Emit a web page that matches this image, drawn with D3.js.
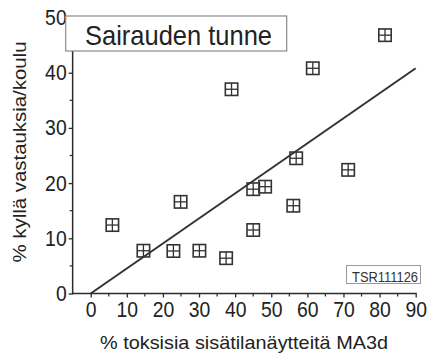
<!DOCTYPE html>
<html>
<head>
<meta charset="utf-8">
<script src="https://cdn.jsdelivr.net/npm/d3@7"></script>
<style>
  html, body { margin: 0; padding: 0; background: #fff; }
  svg { display: block; font-family: "Liberation Sans", Arial, sans-serif; }
</style>
</head>
<body>
<svg id="chart" width="431" height="355"></svg>
<script>
// Share of toxic indoor samples (MA3d) per school vs. share of "yes" answers
const toxicPct = [6, 14.6, 22.9, 30.1, 37.5, 24.9, 39, 45, 45, 48.3, 56.1, 56.9, 61.5, 71.3, 81.5];
const yesPct   = [12.4, 7.75, 7.7, 7.75, 6.4, 16.6, 37, 11.5, 18.9, 19.35, 15.9, 24.5, 40.8, 22.4, 46.8];

// Fitted line through the origin
const fitX = [0, 90];
const fitY = [0, 40.8];

const xTicks = [0, 10, 20, 30, 40, 50, 60, 70, 80, 90];
const xMinor = [5, 15, 25, 35, 45, 55, 65, 75, 85];
const yTicks = [0, 10, 20, 30, 40, 50];
const yMinor = [5, 15, 25, 35, 45];

const title = "Sairauden tunne";
const xTitle = "% toksisia sisätilanäytteitä MA3d";
const yTitle = "% kyllä vastauksia/koulu";
const stamp = "TSR111126";

const ink = "#2b2b2b";
const svg = d3.select("#chart");

const x = d3.scaleLinear().domain([0, 90]).range([90.7, 415.7]);
const y = d3.scaleLinear().domain([0, 50]).range([293.5, 17.5]);
const yAxisAt = x(-5);

// Narrow the glyphs horizontally, as in a condensed Arial
function squeeze(sel, f) {
  sel.each(function () {
    const w = this.getComputedTextLength();
    d3.select(this).attr("textLength", w * f).attr("lengthAdjust", "spacingAndGlyphs");
  });
}

// X axis
const gx = svg.append("g").attr("transform", `translate(0,${y(0)})`);
gx.call(d3.axisBottom(x).tickValues(xTicks).tickSize(4).tickPadding(4).tickFormat(d3.format("d")));
gx.select(".domain").remove();
gx.selectAll(".tick line").attr("stroke", ink).attr("stroke-width", 1.3);
gx.selectAll(".tick text").attr("fill", "#222").attr("font-size", 22)
  .attr("font-family", "'Liberation Sans', Arial, sans-serif").call(squeeze, 0.88);
gx.selectAll(".minor").data(xMinor).enter().append("line")
  .attr("class", "minor")
  .attr("x1", d => x(d)).attr("x2", d => x(d))
  .attr("y1", 0).attr("y2", 3)
  .attr("stroke", ink).attr("stroke-width", 1.2);
gx.append("line")
  .attr("x1", yAxisAt - 0.6).attr("x2", x(90) + 1)
  .attr("y1", 0).attr("y2", 0)
  .attr("stroke", ink).attr("stroke-width", 1.5);

// Y axis
const gy = svg.append("g").attr("transform", `translate(${yAxisAt},0)`);
gy.call(d3.axisLeft(y).tickValues(yTicks).tickSize(4).tickPadding(2).tickFormat(d3.format("d")));
gy.select(".domain").remove();
gy.selectAll(".tick line").attr("stroke", ink).attr("stroke-width", 1.3);
gy.selectAll(".tick text").attr("fill", "#222").attr("font-size", 22)
  .attr("font-family", "'Liberation Sans', Arial, sans-serif").call(squeeze, 0.88);
gy.selectAll(".minor").data(yMinor).enter().append("line")
  .attr("class", "minor")
  .attr("x1", -3).attr("x2", 0)
  .attr("y1", d => y(d)).attr("y2", d => y(d))
  .attr("stroke", ink).attr("stroke-width", 1.2);
gy.append("line")
  .attr("x1", 0).attr("x2", 0)
  .attr("y1", y(0) + 0.7).attr("y2", y(50))
  .attr("stroke", ink).attr("stroke-width", 1.5);

// Regression line
svg.append("path")
  .datum(fitX.map((v, i) => [v, fitY[i]]))
  .attr("d", d3.line().x(d => x(d[0])).y(d => y(d[1])))
  .attr("fill", "none").attr("stroke", "#333").attr("stroke-width", 2);

// Markers: square with a cross
const s = 6.2;
const pts = svg.append("g").selectAll("g")
  .data(toxicPct.map((v, i) => [v, yesPct[i]]))
  .enter().append("g")
  .attr("transform", d => `translate(${x(d[0])},${y(d[1])})`);
pts.append("rect")
  .attr("x", -s).attr("y", -s).attr("width", 2 * s).attr("height", 2 * s)
  .attr("fill", "none").attr("stroke", "#333").attr("stroke-width", 1.6);
pts.append("line").attr("x1", -s).attr("x2", s).attr("y1", 0).attr("y2", 0)
  .attr("stroke", "#333").attr("stroke-width", 1.3);
pts.append("line").attr("y1", -s).attr("y2", s).attr("x1", 0).attr("x2", 0)
  .attr("stroke", "#333").attr("stroke-width", 1.3);

// Title box
svg.append("rect")
  .attr("x", 65.7).attr("y", 16).attr("width", 221).attr("height", 35)
  .attr("fill", "#fff").attr("stroke", "#8a8a8a").attr("stroke-width", 1.2);
svg.append("text")
  .attr("x", 85).attr("y", 45)
  .attr("font-size", 28).attr("fill", "#222")
  .attr("textLength", 187).attr("lengthAdjust", "spacingAndGlyphs")
  .text(title);

// Stamp box
svg.append("rect")
  .attr("x", 346.5).attr("y", 265.5).attr("width", 74).attr("height", 18)
  .attr("fill", "#fff").attr("stroke", "#9a9a9a").attr("stroke-width", 1);
svg.append("text")
  .attr("x", 352).attr("y", 281.5)
  .attr("font-size", 15).attr("fill", "#333")
  .attr("textLength", 66).attr("lengthAdjust", "spacingAndGlyphs")
  .text(stamp);

// Axis titles
svg.append("text")
  .attr("x", 244).attr("y", 349)
  .attr("text-anchor", "middle")
  .attr("font-size", 19).attr("fill", "#222")
  .attr("textLength", 288).attr("lengthAdjust", "spacingAndGlyphs")
  .text(xTitle);
svg.append("text")
  .attr("transform", "translate(26,152) rotate(-90)")
  .attr("text-anchor", "middle")
  .attr("font-size", 19).attr("fill", "#222")
  .attr("textLength", 221).attr("lengthAdjust", "spacingAndGlyphs")
  .text(yTitle);
</script>
</body>
</html>
